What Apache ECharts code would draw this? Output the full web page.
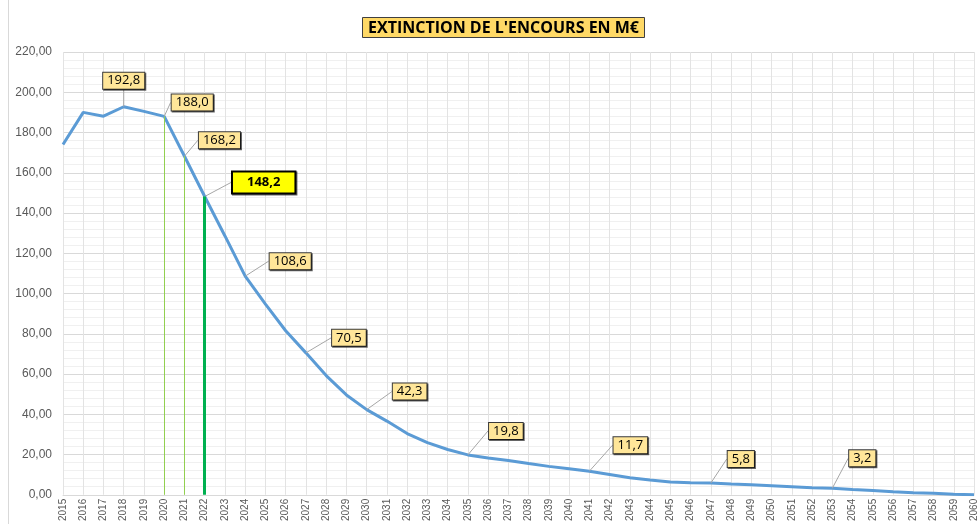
<!DOCTYPE html>
<html><head><meta charset="utf-8">
<script src="https://cdn.jsdelivr.net/npm/echarts@6/dist/echarts.min.js"></script>
<style>html,body{margin:0;padding:0;background:#fff}#c{width:979px;height:524px}</style>
</head><body><div id="c"></div>
<script>
var years = [];
for (var y = 2015; y <= 2060; y++) years.push(String(y));
var values = [174.0, 190.0, 188.1, 192.8, 190.5, 188.0, 168.2, 148.2, 128.6, 108.6,
  94.7, 81.5, 70.5, 59.2, 49.6, 42.3, 36.6, 30.4, 25.9, 22.5,
  19.8, 18.3, 17.0, 15.5, 14.1, 12.9, 11.7, 10.1, 8.5, 7.3,
  6.3, 6.0, 5.8, 5.3, 5.0, 4.5, 4.0, 3.5, 3.2, 2.6,
  2.1, 1.5, 1.0, 0.7, 0.3, 0.0];
var labeledYears = ['2018', '2020', '2021', '2022', '2024', '2027', '2030', '2035', '2041', '2047', '2053'];
var labelOffsets = [[0, -26], [28, -14], [35, -16], [59, -14], [45, -15], [43, -15], [43, -18], [38, -24], [41, -26], [30, -24], [30, -30]];
var thinMarkers = ['2020', '2021'];
var thickMarker = '2022';
var yTicks = [0, 20, 40, 60, 80, 100, 120, 140, 160, 180, 200, 220];

function fmt(v) { return v.toFixed(1).replace('.', ','); }

var seriesData = values.map(function (v, i) {
  var k = labeledYears.indexOf(years[i]);
  if (k < 0) return { value: v, label: { show: false }, labelLine: { show: false } };
  var big = years[i] === thickMarker;
  return {
    value: v,
    label: {
      show: true,
      position: 'inside',
      formatter: function (p) { return fmt(p.value); },
      backgroundColor: big ? '#FFFF00' : '#FFE699',
      borderColor: big ? '#000' : '#3a3a3a',
      borderWidth: big ? 2 : 1,
      padding: big ? [4, 14, 3, 14] : [2, 4, 1, 4],
      fontFamily: 'Open Sans, Liberation Sans, sans-serif',
      fontSize: big ? 13 : 13,
      fontWeight: big ? 'bold' : 'normal',
      color: '#000',
      opacity: 1,
      shadowColor: 'rgba(0,0,0,0.6)', shadowOffsetX: 1, shadowOffsetY: 1
    },
    labelLine: { show: true, lineStyle: { color: '#A6A6A6', width: 1 } }
  };
});

var markData = [];
thinMarkers.forEach(function (yr) {
  var v = values[years.indexOf(yr)];
  markData.push([{ coord: [yr, 0], lineStyle: { color: '#92D050', width: 1, type: 'solid' } }, { coord: [yr, v] }]);
});
markData.push([{ coord: [thickMarker, 0], lineStyle: { color: '#00B050', width: 3, type: 'solid' } }, { coord: [thickMarker, values[years.indexOf(thickMarker)]] }]);

var chart = echarts.init(document.getElementById('c'), null, { renderer: 'canvas' });
chart.setOption({
  animation: false,
  title: {
    text: "EXTINCTION DE L'ENCOURS EN M€",
    left: 362, top: 17,
    textStyle: { fontFamily: 'Open Sans, Liberation Sans, sans-serif', fontSize: 16, fontWeight: 'bold', color: '#000' },
    backgroundColor: '#FFD966', borderColor: '#404040', borderWidth: 1, padding: [3, 6, 2, 6]
  },
  graphic: [{ type: 'line', shape: { x1: 8.5, y1: 0, x2: 8.5, y2: 524 }, style: { stroke: '#D9D9D9', lineWidth: 1 } }],
  grid: { left: 63, right: 1, top: 52, bottom: 28, containLabel: false },
  xAxis: {
    type: 'category', data: years, boundaryGap: false,
    axisLine: { lineStyle: { color: '#D9D9D9' } },
    axisTick: { show: false },
    axisLabel: { rotate: 90, fontSize: 10, color: '#595959', fontFamily: 'Liberation Sans, sans-serif', margin: 4, interval: 0 },
    splitLine: { show: true, lineStyle: { color: '#E3E3E3', width: 1 } }
  },
  yAxis: {
    type: 'value', min: 0, max: 220, interval: 20,
    axisLine: { show: false }, axisTick: { show: false },
    axisLabel: { fontSize: 12, color: '#595959', fontFamily: 'Liberation Sans, sans-serif', margin: 11,
      formatter: function (v) { return yTicks.indexOf(v) >= 0 ? v.toFixed(2).replace('.', ',') : ''; } },
    splitLine: { lineStyle: { color: '#D9D9D9', width: 1 } },
    minorTick: { show: false, splitNumber: 5 },
    minorSplitLine: { show: true, lineStyle: { color: '#F0F0F0', width: 1 } }
  },
  series: [{
    type: 'line', data: seriesData, showSymbol: true, symbol: 'circle', symbolSize: 0.1,
    lineStyle: { color: '#5B9BD5', width: 3 },
    itemStyle: { color: 'rgba(91,155,213,0)', borderWidth: 0 },
    labelLayout: function (p) {
      var k = labeledYears.indexOf(years[p.dataIndex]);
      if (k < 0) return {};
      return { dx: labelOffsets[k][0], dy: labelOffsets[k][1] };
    },
    markLine: { silent: true, symbol: 'none', label: { show: false }, data: markData },
    z: 3
  }]
});
</script></body></html>
